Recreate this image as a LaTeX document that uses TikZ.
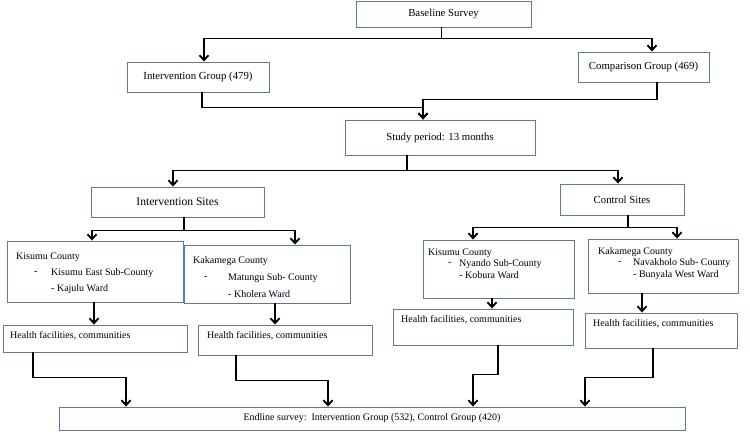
\documentclass[tikz,border=0pt]{standalone}
\usepackage{fontspec}
\setmainfont{Liberation Serif}
\usetikzlibrary{arrows.meta}
\definecolor{boxc}{RGB}{92,118,165}
\begin{document}
\begin{tikzpicture}[x=1pt,y=-1pt,
  box/.style={draw=boxc,line width=0.9pt,inner sep=0pt,align=center},
  big/.style={font=\fontsize{10.8}{13}\selectfont},
  small/.style={font=\fontsize{10}{12}\selectfont},
  conn/.style={line width=1.9pt,-{Straight Barb[length=5pt,width=9pt,line width=1.8pt]}},
  lbl/.style={anchor=west,inner sep=0pt,font=\fontsize{10}{12}\selectfont}]
\useasboundingbox (0,0) rectangle (750,432);

% boxes
\node[box,big,minimum width=175pt,minimum height=26pt] (base) at (443.5,14) {Baseline Survey};
\node[box,big,minimum width=142pt,minimum height=30pt] (ig) at (198,77) {Intervention Group (479)};
\node[box,big,minimum width=131pt,minimum height=30pt] (cg) at (643.5,67) {Comparison Group (469)};
\node[box,big,minimum width=190pt,minimum height=35pt] (sp) at (440,137.5) {Study period: 13 months};
\node[box,font=\fontsize{11.6}{14}\selectfont,minimum width=173pt,minimum height=30pt] (is) at (177.5,202) {Intervention Sites};
\node[box,big,minimum width=124pt,minimum height=31pt] (cs) at (622,199.5) {\raisebox{-4pt}{Control Sites}};

\node[box,minimum width=176pt,minimum height=61pt] (k1) at (95,271.5) {};
\node[box,minimum width=166pt,minimum height=58pt] (k2) at (267,274) {};
\node[box,minimum width=151pt,minimum height=58pt] (k3) at (498.5,269) {};
\node[box,minimum width=150pt,minimum height=54pt] (k4) at (663,266) {};

\node[box,minimum width=184pt,minimum height=27pt] (h1) at (95,338.5) {};
\node[box,minimum width=174pt,minimum height=30pt] (h2) at (285,340) {};
\node[box,minimum width=180pt,minimum height=36pt] (h3) at (483,327) {};
\node[box,minimum width=152pt,minimum height=35pt] (h4) at (661,330.5) {};

\node[box,small,minimum width=626pt,minimum height=23pt] (end) at (372,418.5) {Endline survey:\ \ Intervention Group (532), Control Group (420)};

% texts in site boxes
\node[lbl] (k1a) at (16,257) {Kisumu County};
\node[lbl] (k1b) at (34,273) {-};
\node[lbl] (k1c) at (51,273) {Kisumu East Sub-County};
\node[lbl] (k1d) at (51,289) {- Kajulu Ward};

\node[lbl] (k2a) at (193,261) {Kakamega County};
\node[lbl] (k2b) at (204,278) {-};
\node[lbl] (k2c) at (228,278) {Matungu Sub- County};
\node[lbl] (k2d) at (228,294) {- Kholera Ward};

\node[lbl] (k3a) at (428,253) {Kisumu County};
\node[lbl] (k3b) at (448,264) {-};
\node[lbl] (k3c) at (459,264) {Nyando Sub-County};
\node[lbl] (k3d) at (459,275) {- Kobura Ward};

\node[lbl] (k4a) at (598,252) {Kakamega County};
\node[lbl] (k4b) at (618,263) {-};
\node[lbl] (k4c) at (633,263) {Navakholo Sub- County};
\node[lbl] (k4d) at (633,275) {- Bunyala West Ward};

\node[lbl] (h1t) at (10,336) {Health facilities, communities};
\node[lbl] (h2t) at (207,336) {Health facilities, communities};
\node[lbl] (h3t) at (401,320) {Health facilities, communities};
\node[lbl] (h4t) at (593,324) {Health facilities, communities};

% connectors
\draw[conn] ([xshift=-2pt]base.south) -- ++(0,11) -| ([xshift=6pt]ig.north);
\draw[conn] ([xshift=-2pt]base.south) -- ++(0,11) -| ([xshift=8.5pt]cg.north);

\draw[conn] ([xshift=4pt]ig.south) -- ++(0,15) -| ([xshift=-17pt]sp.north);
\draw[conn] ([xshift=13.5pt]cg.south) -- ++(0,17) -| ([xshift=-17pt]sp.north);

\draw[conn] ([xshift=-33pt]sp.south) -- ++(0,15) -| ([xshift=-4.5pt]is.north);
\draw[conn] ([xshift=-33pt]sp.south) -- ++(0,15) -| ([xshift=-4pt]cs.north);

\draw[conn] ([xshift=6.5pt]is.south) -- ++(0,13) -| ([xshift=-3pt]k1.north);
\draw[conn] ([xshift=6.5pt]is.south) -- ++(0,13) -| ([xshift=28pt]k2.north);

\draw[conn] ([xshift=6pt]cs.south) -- ++(0,12) -| ([xshift=-25.5pt]k3.north);
\draw[conn] ([xshift=6pt]cs.south) -- ++(0,12) -| ([xshift=14pt]k4.north);

\draw[conn] ([xshift=-1pt]k1.south) -- ([xshift=-1pt]k1.south |- h1.north);
\draw[conn] ([xshift=8pt]k2.south) -- ([xshift=8pt]k2.south |- h2.north);
\draw[conn] ([xshift=-6.5pt]k3.south) -- ([xshift=-6.5pt]k3.south |- h3.north);
\draw[conn] ([xshift=-21pt]k4.south) -- ([xshift=-21pt]k4.south |- h4.north);

\draw[conn] ([xshift=-62pt]h1.south) -- ++(0,25) -| ([xshift=-246pt]end.north);
\draw[conn] ([xshift=-49pt]h2.south) -- ++(0,25) -| ([xshift=-44pt]end.north);
\draw[conn] ([xshift=15pt]h3.south) -- ++(0,29) -| ([xshift=101pt]end.north);
\draw[conn] ([xshift=-8pt]h4.south) -- ++(0,29) -| ([xshift=213pt]end.north);
\end{tikzpicture}
\end{document}
